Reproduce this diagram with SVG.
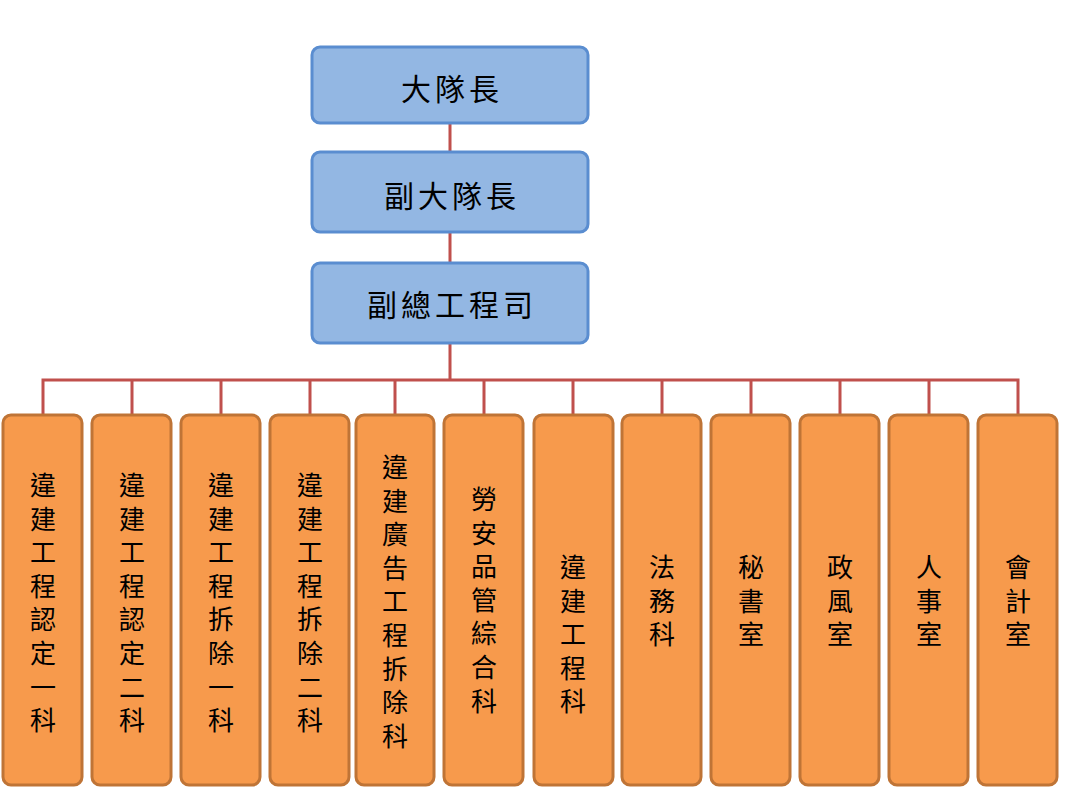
<svg xmlns="http://www.w3.org/2000/svg" width="1068" height="797" viewBox="0 0 1068 797">
<style>
.top rect{fill:#93b7e3;stroke:#5a8dd0;stroke-width:3}
.bot rect{fill:#f79a4c;stroke:#bf7436;stroke-width:3}
text{font-family:"Noto Sans CJK TC","Noto Sans CJK SC",sans-serif;fill:#000;text-anchor:middle;dominant-baseline:central}
.top text{font-size:30px;letter-spacing:4px}
.bot text{font-size:26px}
#connectors path{stroke:#c0504d;stroke-width:3;fill:none}
</style>
<rect width="1068" height="797" fill="#fff"/>
<g id="connectors">
<path d="M450 123V152M450 232V263M450 343V380H43V415M1018 415V380H450M132 380V415M221 380V415M310 380V415M395 380V415M484 380V415M573 380V415M662 380V415M751 380V415M840 380V415M929 380V415"/>
</g>
<g id="n1" class="top"><rect x="312" y="47" width="276" height="76" rx="8"/><text x="452" y="87">大隊長</text></g>
<g id="n2" class="top"><rect x="312" y="152" width="276" height="80" rx="8"/><text x="452" y="194">副大隊長</text></g>
<g id="n3" class="top"><rect x="312" y="263" width="276" height="80" rx="8"/><text x="452" y="303">副總工程司</text></g>
<g id="b1" class="bot"><rect x="3" y="415" width="79" height="370" rx="8"/><text x="43" y="483"><tspan x="43" dy="0">違</tspan><tspan x="43" dy="33.6">建</tspan><tspan x="43" dy="33.6">工</tspan><tspan x="43" dy="33.6">程</tspan><tspan x="43" dy="33.6">認</tspan><tspan x="43" dy="33.6">定</tspan><tspan x="43" dy="33.6">一</tspan><tspan x="43" dy="33.6">科</tspan></text></g>
<g id="b2" class="bot"><rect x="92" y="415" width="79" height="370" rx="8"/><text x="132" y="483"><tspan x="132" dy="0">違</tspan><tspan x="132" dy="33.6">建</tspan><tspan x="132" dy="33.6">工</tspan><tspan x="132" dy="33.6">程</tspan><tspan x="132" dy="33.6">認</tspan><tspan x="132" dy="33.6">定</tspan><tspan x="132" dy="33.6">二</tspan><tspan x="132" dy="33.6">科</tspan></text></g>
<g id="b3" class="bot"><rect x="181" y="415" width="79" height="370" rx="8"/><text x="221" y="483"><tspan x="221" dy="0">違</tspan><tspan x="221" dy="33.6">建</tspan><tspan x="221" dy="33.6">工</tspan><tspan x="221" dy="33.6">程</tspan><tspan x="221" dy="33.6">拆</tspan><tspan x="221" dy="33.6">除</tspan><tspan x="221" dy="33.6">一</tspan><tspan x="221" dy="33.6">科</tspan></text></g>
<g id="b4" class="bot"><rect x="270" y="415" width="79" height="370" rx="8"/><text x="310" y="483"><tspan x="310" dy="0">違</tspan><tspan x="310" dy="33.6">建</tspan><tspan x="310" dy="33.6">工</tspan><tspan x="310" dy="33.6">程</tspan><tspan x="310" dy="33.6">拆</tspan><tspan x="310" dy="33.6">除</tspan><tspan x="310" dy="33.6">二</tspan><tspan x="310" dy="33.6">科</tspan></text></g>
<g id="b5" class="bot"><rect x="356" y="415" width="78" height="370" rx="8"/><text x="395" y="465"><tspan x="395" dy="0">違</tspan><tspan x="395" dy="33.6">建</tspan><tspan x="395" dy="33.6">廣</tspan><tspan x="395" dy="33.6">告</tspan><tspan x="395" dy="33.6">工</tspan><tspan x="395" dy="33.6">程</tspan><tspan x="395" dy="33.6">拆</tspan><tspan x="395" dy="33.6">除</tspan><tspan x="395" dy="33.6">科</tspan></text></g>
<g id="b6" class="bot"><rect x="444" y="415" width="79" height="370" rx="8"/><text x="484" y="497"><tspan x="484" dy="0">勞</tspan><tspan x="484" dy="33.6">安</tspan><tspan x="484" dy="33.6">品</tspan><tspan x="484" dy="33.6">管</tspan><tspan x="484" dy="33.6">綜</tspan><tspan x="484" dy="33.6">合</tspan><tspan x="484" dy="33.6">科</tspan></text></g>
<g id="b7" class="bot"><rect x="534" y="415" width="79" height="370" rx="8"/><text x="573" y="565"><tspan x="573" dy="0">違</tspan><tspan x="573" dy="33.6">建</tspan><tspan x="573" dy="33.6">工</tspan><tspan x="573" dy="33.6">程</tspan><tspan x="573" dy="33.6">科</tspan></text></g>
<g id="b8" class="bot"><rect x="622" y="415" width="79" height="370" rx="8"/><text x="662" y="565"><tspan x="662" dy="0">法</tspan><tspan x="662" dy="33.6">務</tspan><tspan x="662" dy="33.6">科</tspan></text></g>
<g id="b9" class="bot"><rect x="711" y="415" width="79" height="370" rx="8"/><text x="751" y="565"><tspan x="751" dy="0">秘</tspan><tspan x="751" dy="33.6">書</tspan><tspan x="751" dy="33.6">室</tspan></text></g>
<g id="b10" class="bot"><rect x="800" y="415" width="79" height="370" rx="8"/><text x="840" y="565"><tspan x="840" dy="0">政</tspan><tspan x="840" dy="33.6">風</tspan><tspan x="840" dy="33.6">室</tspan></text></g>
<g id="b11" class="bot"><rect x="889" y="415" width="79" height="370" rx="8"/><text x="929" y="565"><tspan x="929" dy="0">人</tspan><tspan x="929" dy="33.6">事</tspan><tspan x="929" dy="33.6">室</tspan></text></g>
<g id="b12" class="bot"><rect x="978" y="415" width="79" height="370" rx="8"/><text x="1018" y="565"><tspan x="1018" dy="0">會</tspan><tspan x="1018" dy="33.6">計</tspan><tspan x="1018" dy="33.6">室</tspan></text></g>
</svg>
